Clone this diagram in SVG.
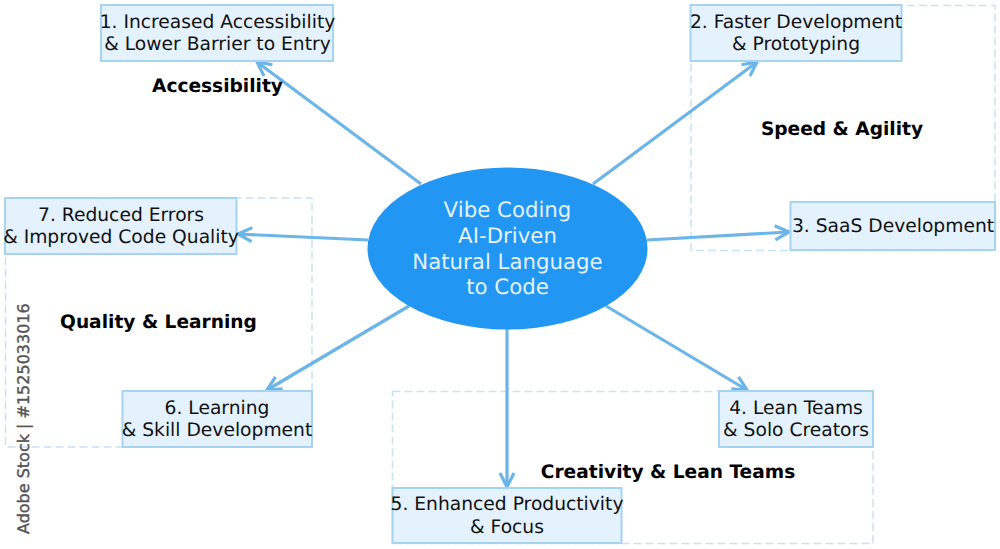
<svg xmlns="http://www.w3.org/2000/svg" width="1000" height="549" viewBox="0 0 1000 549">
<style>
text{font-family:"DejaVu Sans",Verdana,sans-serif;text-anchor:middle;text-rendering:geometricPrecision}
.b{fill:#E3F2FD;stroke:#A5D3F0;stroke-width:2}
.g{fill:none;stroke:#C6E2F5;stroke-width:1.5;stroke-dasharray:8 4}
.t{font-size:18.700px;fill:#111}
.h{font-size:18.600px;font-weight:bold;fill:#000}
.c{font-size:21.300px;fill:#E3F2FD}
.a{fill:none;stroke:#6BB5E8;stroke-width:3.200;marker-end:url(#m)}
.w{font-size:16px;fill:#555;text-anchor:start;stroke:#555;stroke-width:.4}
</style>
<defs><marker id="m" markerUnits="userSpaceOnUse" markerWidth="20" markerHeight="20" refX="17" refY="9" orient="auto"><path d="M3 2L17 9L3 16" fill="none" stroke="#6BB5E8" stroke-width="3.200"/></marker></defs>
<rect width="1000" height="549" fill="#fff"/>
<g id="groups">
<rect class="g" x="691" y="5.500" width="304" height="245"/>
<rect class="g" x="5.500" y="198" width="306.500" height="249"/>
<rect class="g" x="392.500" y="391.500" width="480.500" height="152"/>
</g>
<g id="connectors">
<path class="a" d="M421 184L257 62"/>
<path class="a" d="M593 184L757 62"/>
<path class="a" d="M647 240L789 232"/>
<path class="a" d="M606 306L747 390"/>
<path class="a" d="M507 328V487"/>
<path class="a" d="M409 306L267 390"/>
<path class="a" d="M368 240L238 234"/>
</g>
<g id="center"><ellipse cx="507.500" cy="248.500" rx="140" ry="81" fill="#2196F3"/>
<text class="c" x="507.500" y="216.500">Vibe Coding</text><text class="c" x="507.500" y="242.500">AI-Driven</text><text class="c" x="507.500" y="268.500">Natural Language</text><text class="c" x="507.500" y="293.500">to Code</text></g>
<g id="n1"><rect class="b" x="101" y="5" width="232" height="56"/><text class="t" x="217.500" y="27.500">1. Increased Accessibility</text><text class="t" x="217.500" y="50">&amp; Lower Barrier to Entry</text></g>
<g id="n2"><rect class="b" x="690.500" y="5" width="211" height="56"/><text class="t" x="796" y="27.500">2. Faster Development</text><text class="t" x="796" y="50">&amp; Prototyping</text></g>
<g id="n3"><rect class="b" x="790.500" y="202" width="204.500" height="48"/><text class="t" x="893" y="231.500">3. SaaS Development</text></g>
<g id="n4"><rect class="b" x="719" y="391" width="154" height="56"/><text class="t" x="796" y="413.500">4. Lean Teams</text><text class="t" x="796" y="436">&amp; Solo Creators</text></g>
<g id="n5"><rect class="b" x="392.500" y="488" width="229" height="55"/><text class="t" x="507" y="510">5. Enhanced Productivity</text><text class="t" x="507" y="533">&amp; Focus</text></g>
<g id="n6"><rect class="b" x="122.500" y="391" width="189.500" height="56"/><text class="t" x="217" y="413.500">6. Learning</text><text class="t" x="217" y="436">&amp; Skill Development</text></g>
<g id="n7"><rect class="b" x="5" y="198" width="231.500" height="56"/><text class="t" x="121" y="220.500">7. Reduced Errors</text><text class="t" x="121" y="243">&amp; Improved Code Quality</text></g>
<g id="labels">
<text class="h" x="217.500" y="92">Accessibility</text>
<text class="h" x="842" y="135">Speed &amp; Agility</text>
<text class="h" x="158.500" y="328">Quality &amp; Learning</text>
<text class="h" x="668" y="478">Creativity &amp; Lean Teams</text>
<text class="w" transform="translate(29 534) rotate(-90)">Adobe Stock | #1525033016</text>
</g>
</svg>
